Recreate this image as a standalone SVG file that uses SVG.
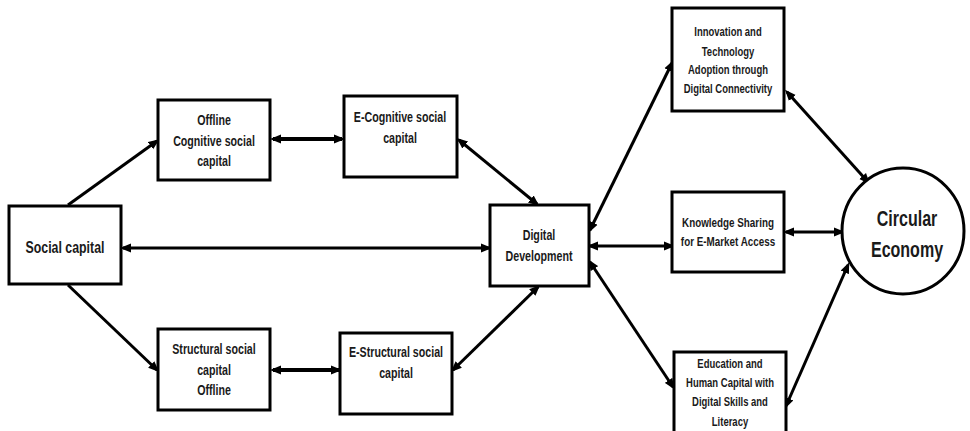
<svg xmlns="http://www.w3.org/2000/svg" width="970" height="431" viewBox="0 0 970 431">
<defs>
<marker id="ah" markerUnits="userSpaceOnUse" markerWidth="12" markerHeight="10" refX="8" refY="4.5" orient="auto-start-reverse" viewBox="0 0 12 9">
<path d="M0,0 L11,4.5 L0,9 z" fill="#000"/>
</marker>
<style>
.box{fill:#fff;stroke:#000;stroke-width:3}
.t{font-family:"Liberation Sans",Arial,sans-serif;font-weight:bold;fill:#1a1a1a;text-anchor:middle}
.s13{font-size:14.5px}
.s12{font-size:13.4px}
.s11{font-size:12.9px}
.s15{font-size:16.8px}
.s20{font-size:21.8px}
.c{fill:none;stroke:#000;stroke-width:3}
.ck{stroke-width:4}
.one{marker-end:url(#ah)}
.two{marker-start:url(#ah);marker-end:url(#ah)}
</style>
</defs>
<rect width="970" height="431" fill="#fff"/>
<g id="connectors">
<line class="c one" x1="68" y1="205" x2="157" y2="141"/>
<line class="c ck two" x1="273" y1="139" x2="342" y2="139"/>
<line class="c two" x1="123" y1="248" x2="489" y2="248"/>
<line class="c one" x1="68" y1="285" x2="157" y2="370"/>
<line class="c ck two" x1="273" y1="370" x2="339" y2="370"/>
<line class="c two" x1="459" y1="140" x2="537" y2="204"/>
<line class="c two" x1="453" y1="370" x2="538" y2="287"/>
<line class="c two" x1="590" y1="230" x2="672" y2="63"/>
<line class="c two" x1="590" y1="246" x2="672" y2="246"/>
<line class="c two" x1="590" y1="262" x2="673" y2="387"/>
<line class="c two" x1="787" y1="92" x2="868" y2="182"/>
<line class="c two" x1="786" y1="232" x2="842" y2="232"/>
<line class="c two" x1="786" y1="406" x2="848" y2="265"/>
</g>
<g id="social-capital">
<rect class="box" x="9" y="206" width="112" height="78"/>
<g transform="translate(65 0) scale(0.735 1)">
<text class="t s15" x="0" y="253">Social capital</text>
</g>
</g>
<g id="offline-cognitive">
<rect class="box" x="158" y="100" width="112" height="80"/>
<g transform="translate(214 0) scale(0.735 1)">
<text class="t s13" x="0" y="125">Offline</text>
<text class="t s13" x="0" y="146">Cognitive social</text>
<text class="t s13" x="0" y="166">capital</text>
</g>
</g>
<g id="e-cognitive">
<rect class="box" x="344" y="96" width="113" height="81"/>
<g transform="translate(400 0) scale(0.735 1)">
<text class="t s13" x="0" y="122">E-Cognitive social</text>
<text class="t s13" x="0" y="143">capital</text>
</g>
</g>
<g id="structural">
<rect class="box" x="158" y="329" width="112" height="81"/>
<g transform="translate(214 0) scale(0.735 1)">
<text class="t s13" x="0" y="354">Structural social</text>
<text class="t s13" x="0" y="375">capital</text>
<text class="t s13" x="0" y="395">Offline</text>
</g>
</g>
<g id="e-structural">
<rect class="box" x="340" y="333" width="112" height="81"/>
<g transform="translate(396 0) scale(0.735 1)">
<text class="t s13" x="0" y="357">E-Structural social</text>
<text class="t s13" x="0" y="378">capital</text>
</g>
</g>
<g id="digital-development">
<rect class="box" x="490" y="205" width="99" height="81"/>
<g transform="translate(539 0) scale(0.735 1)">
<text class="t s13" x="0" y="240">Digital</text>
<text class="t s13" x="0" y="261">Development</text>
</g>
</g>
<g id="innovation">
<rect class="box" x="672" y="8" width="112" height="103"/>
<g transform="translate(728 0) scale(0.735 1)">
<text class="t s11" x="0" y="36">Innovation and</text>
<text class="t s11" x="0" y="56">Technology</text>
<text class="t s11" x="0" y="74">Adoption through</text>
<text class="t s11" x="0" y="93">Digital Connectivity</text>
</g>
</g>
<g id="knowledge">
<rect class="box" x="672" y="192" width="112" height="80"/>
<g transform="translate(728 0) scale(0.735 1)">
<text class="t s12" x="0" y="227">Knowledge Sharing</text>
<text class="t s12" x="0" y="246">for E-Market Access</text>
</g>
</g>
<g id="education">
<rect class="box" x="674" y="352" width="112" height="90"/>
<g transform="translate(730 0) scale(0.735 1)">
<text class="t s11" x="0" y="368">Education and</text>
<text class="t s11" x="0" y="387">Human Capital with</text>
<text class="t s11" x="0" y="406">Digital Skills and</text>
<text class="t s11" x="0" y="426">Literacy</text>
</g>
</g>
<g id="circular-economy">
<ellipse cx="903" cy="231" rx="61" ry="63" fill="#fff" stroke="#000" stroke-width="3"/>
<g transform="translate(907 0) scale(0.735 1)">
<text class="t s20" x="0" y="226">Circular</text>
<text class="t s20" x="0" y="257">Economy</text>
</g>
</g>
</svg>
